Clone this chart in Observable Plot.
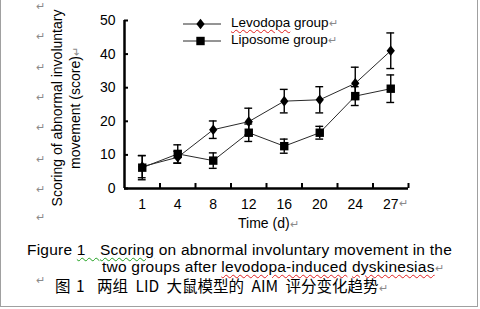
<!DOCTYPE html>
<html><head><meta charset="utf-8">
<script src="https://cdn.jsdelivr.net/npm/d3@7"></script>
<script src="https://cdn.jsdelivr.net/npm/@observablehq/plot@0.6"></script>
<style>
body{margin:0;background:#fff;}
#page{position:relative;width:480px;height:309px;overflow:hidden;font-family:"Liberation Sans",Arial,sans-serif;color:#000;background:#fff;}
#frame{position:absolute;left:0;top:-2px;width:476px;height:308px;border:1px solid #a0a0a0;border-top:none;}
#chart{position:absolute;left:0;top:0;}
.abs{position:absolute;white-space:nowrap;}
.pm{color:#8a8a8a;font-size:11px;letter-spacing:0;}
.ytitle{position:absolute;left:-44px;top:90px;width:220px;height:36px;line-height:18px;font-size:14px;text-align:center;transform:rotate(-90deg);transform-origin:50% 50%;white-space:nowrap;}
.cap{font-size:15.5px;letter-spacing:0.23px;line-height:16px;}
.cjk{font-family:"Noto Sans CJK SC","Liberation Sans",sans-serif;font-size:15.5px;line-height:16px;}
.redw{text-decoration:underline wavy #e02020;text-decoration-thickness:1px;text-underline-offset:2px;}
.grnw{text-decoration:underline wavy #20a020;text-decoration-thickness:1px;text-underline-offset:2px;}
</style></head>
<body>
<div id="page">
  <div id="frame"></div>
  <div id="chart"></div>
</div>
<script>
// ---- data ----
const days = ["1", "4", "8", "12", "16", "20", "24", "27"];
const levodopa    = [6.5, 9.3, 17.5, 19.9, 26.0, 26.4, 31.3, 41.0];
const levodopaErr = [3.3, 1.8, 2.6, 4.0, 3.5, 3.9, 4.8, 5.3];
const liposome    = [6.2, 10.3, 8.3, 16.6, 12.6, 16.6, 27.5, 29.7];
const liposomeErr = [3.6, 2.7, 2.3, 2.6, 2.1, 1.9, 2.8, 4.1];
const seriesNames = ["Levodopa group", "Liposome group"];
const yTicks = [0, 10, 20, 30, 40, 50];
const yTitle = ["Scoring of abnormal involuntary", "movement (score)"];
const xTitle = "Time (d)";

// ---- symbols ----
const diamondSym = {draw(ctx, size){const r=Math.sqrt(size/Math.PI);ctx.moveTo(0,-r);ctx.lineTo(0.78*r,0);ctx.lineTo(0,r);ctx.lineTo(-0.78*r,0);ctx.closePath();}};
const squareSym = {draw(ctx, size){const r=Math.sqrt(size/Math.PI);ctx.rect(-r,-r,2*r,2*r);}};

const rows = days.map((d, i) => ({i, day: d, lev: levodopa[i], levE: levodopaErr[i], lip: liposome[i], lipE: liposomeErr[i]}));
const pos = d => d.i + 0.5;
const cap = 0.11;

function series(key, ekey, sym, r) {
  return [
    Plot.line(rows, {x: pos, y: key, stroke: "#2a2a2a", strokeWidth: 1}),
    Plot.ruleX(rows, {x: pos, y1: d => d[key] - d[ekey], y2: d => d[key] + d[ekey], stroke: "#000", strokeWidth: 1.4}),
    Plot.ruleY(rows, {y: d => d[key] + d[ekey], x1: d => pos(d) - cap, x2: d => pos(d) + cap, stroke: "#000", strokeWidth: 1.4}),
    Plot.ruleY(rows, {y: d => d[key] - d[ekey], x1: d => pos(d) - cap, x2: d => pos(d) + cap, stroke: "#000", strokeWidth: 1.4}),
    Plot.dot(rows, {x: pos, y: key, symbol: sym, r, fill: "#000", stroke: "none"})
  ];
}

const chart = Plot.plot({
  width: 480, height: 240,
  marginLeft: 124, marginRight: 72, marginTop: 20, marginBottom: 52,
  style: {fontFamily: "'Liberation Sans', Arial, sans-serif", fontSize: "14px", color: "#000", background: "transparent", overflow: "visible"},
  x: {type: "linear", domain: [0, days.length]},
  y: {type: "linear", domain: [0, 50]},
  marks: [
    ...series("lev", "levE", diamondSym, 5.3),
    ...series("lip", "lipE", squareSym, 4.2),
    Plot.ruleX([0], {stroke: "#000", strokeWidth: 2.5}),
    Plot.ruleY([0], {stroke: "#000", strokeWidth: 2.5}),
    Plot.axisY({ticks: yTicks, tickSize: -4, tickFormat: () => "", label: null, strokeWidth: 2}),
    Plot.axisY({ticks: yTicks, tickSize: 0, tickPadding: 9, label: null, fontSize: 14}),
    Plot.axisX({ticks: d3.range(1, days.length + 1), tickSize: -5, tickFormat: () => "", label: null, strokeWidth: 2}),
    Plot.axisX({ticks: rows.map(pos), tickSize: 0, tickPadding: 11, tickFormat: v => days[Math.round(v - 0.5)], label: null, fontSize: 14})
  ]
});
document.getElementById("chart").appendChild(chart);

const page = d3.select("#page");
function put(html, left, top, cls, extra) {
  return page.append("div").attr("class", "abs " + (cls || "")).attr("style", (extra||"") + `left:${left}px;top:${top}px;`).html(html);
}

// paragraph marks on the left margin
[0, 30, 61, 91, 121, 153, 183, 211, 274].forEach(t => put("↵", 36, t, "pm"));

// y title
page.append("div").attr("class", "ytitle").html(yTitle[0] + "<br>" + yTitle[1] + '<span class="pm">↵</span>');

// x title & last tick mark
put(xTitle + '<span class="pm">↵</span>', 238, 215, "", "font-size:14px;");
put("↵", 399, 197, "pm");

// legend
const leg = [{name: seriesNames[0], sym: diamondSym, r: 5.3, top: 23.5}, {name: seriesNames[1], sym: squareSym, r: 4.2, top: 40.5}];
leg.forEach((L, k) => {
  const svg = page.append("svg").attr("width", 44).attr("height", 16).style("position", "absolute").style("left", "180px").style("top", (L.top - 8) + "px");
  svg.append("line").attr("x1", 3).attr("x2", 41).attr("y1", 8).attr("y2", 8).attr("stroke", "#2a2a2a").attr("stroke-width", 1);
  svg.append("path").attr("transform", "translate(20.5,8)").attr("d", d3.symbol(L.sym, L.r * L.r * Math.PI)()).attr("fill", "#000");
  const words = L.name.split(" ");
  const first = k === 0 ? `<span class="redw">${words[0]}</span>` : words[0];
  put(first + " " + words.slice(1).join(" ") + '<span class="pm">↵</span>', 231, L.top - 9, "", "font-size:13.5px;");
});

// captions
put("Figure <span class='grnw'>1&nbsp;&nbsp;&nbsp;</span>", 27, 242, "cap");
put("<span class='grnw'>Scoring</span> on abnormal involuntary movement in the", 100, 242, "cap");
put("two groups after <span class='redw'>levodopa-induced</span> <span class='redw'>dyskinesias</span><span class='pm'>↵</span>", 102, 259, "cap");
put("图 1", 55, 277, "cjk", "word-spacing:2px;");
put("两组 LID 大鼠模型的 AIM 评分变化趋势<span class='pm'>↵</span>", 97, 277, "cjk", "word-spacing:4px;");
</script>
</body></html>
